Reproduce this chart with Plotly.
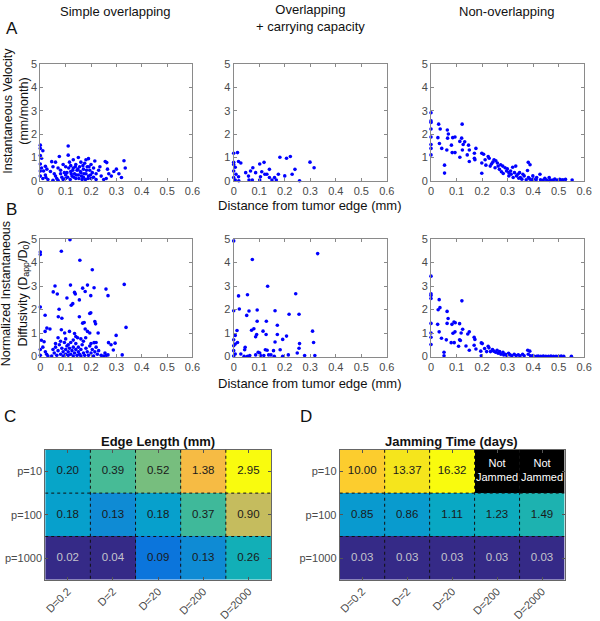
import numpy as np
import plotly.graph_objects as go

# ---------------- data ----------------
col_titles = ["Simple overlapping", "Overlapping<br>+ carrying capacity", "Non-overlapping"]

# Panel A: instantaneous velocity (mm/month) vs distance from tumor edge (mm)
vel_simple_x = [0.0,0.0,0.01,0.0,0.005,0.0,0.005,0.0,0.013,0.02,0.026,0.02,0.022,0.03,0.0,0.01,
    0.045,0.06,0.05,0.055,0.06,0.065,0.07,0.075,0.08,0.08,0.085,0.09,0.09,0.095,0.1,0.1,0.1,0.05,0.07,0.04,
    0.11,0.11,0.115,0.12,0.12,0.125,0.13,0.13,0.135,0.14,0.14,0.145,0.15,0.15,0.155,0.16,0.16,0.165,0.17,0.17,
    0.175,0.18,0.18,0.185,0.19,0.19,0.195,0.2,0.2,0.205,0.21,0.21,0.215,0.22,0.22,0.105,0.108,0.112,0.118,0.122,
    0.128,0.132,0.138,0.142,0.148,0.152,0.158,0.162,0.168,0.172,0.178,0.182,0.188,0.192,0.198,0.23,0.24,0.235,
    0.256,0.262,0.265,0.27,0.28,0.29,0.3,0.25,0.26,0.33,0.335,0.32,0.31]
vel_simple_y = [1.53,1.39,1.29,1.08,0.97,0.72,0.55,0.42,0.42,0.62,0.5,0.25,0.14,0.05,0.2,0.1,
    0.82,0.8,0.6,0.3,0.2,0.1,0.55,1.04,0.45,0.3,0.15,0.05,0.7,0.35,0.25,0.6,0.1,0.02,0.02,0.4,
    1.49,1.1,0.8,0.65,0.4,0.2,0.9,0.55,0.3,0.1,0.7,0.45,1.0,0.25,0.6,0.8,0.35,0.05,0.5,0.15,
    0.75,0.3,0.9,0.6,0.2,0.95,0.45,0.1,0.7,0.35,0.55,0.15,0.85,0.3,0.05,0.35,0.15,0.55,0.05,0.3,
    0.45,0.15,0.6,0.25,0.5,0.1,0.4,0.2,0.65,0.3,0.05,0.45,0.1,0.6,0.25,0.45,0.2,0.6,
    0.83,0.78,0.5,0.3,0.2,0.4,0.5,0.05,0.1,0.86,0.55,0.14,0.3]

vel_cc_x = [0,0.015,0,0,0.006,0,0.009,0,0.006,0.019,0.028,0.019,0.02,0.047,0.058,0.06,0.066,0.075,0.086,0.073,
    0.102,0.105,0.102,0.11,0.119,0.122,0.13,0.14,0.14,0.15,0.16,0.167,0.175,0.181,0.2,0.207,0.222,0.229,0.24,
    0.258,0.299,0.315]
vel_cc_y = [1.18,1.21,0.79,0.7,0.58,0.42,0.28,0.14,0.03,0.83,0.76,0.17,0.0,0.35,0.2,0.03,0.42,0.56,0.35,0.03,
    0.72,0.17,0.03,0.39,0.79,0.28,0.28,0.49,0.14,0.03,0.14,0.03,0.28,1.01,0.21,0.97,1.04,0.28,0.49,
    0.0,0.8,0.56]

vel_non_x = [0,0,0,0,0,0,0,0,0.03,0.036,0.027,0.033,0.042,0.053,0.053,0.064,0.068,0.062,0.065,0.08,0.085,0.094,
    0.083,0.094,0.113,0.12,0.122,0.113,0.123,0.126,0.132,0.142,0.147,0.15,0.15,0.17,0.176,0.17,0.172,0.199,0.199,
    0.199,0.206,0.212,0.215,0.224,0.228,0.232,0.237,0.242,0.247,0.254,0.251,0.26,0.263,0.268,0.273,0.276,0.281,
    0.283,0.29,0.296,0.299,0.305,0.305,0.312,0.314,0.32,0.322,0.327,0.332,0.335,0.34,0.344,0.347,0.35,0.356,0.36,
    0.365,0.373,0.378,0.381,0.388,0.382,0.388,0.395,0.399,0.401,0.412,0.414,0.427,0.429,0.44,0.446,0.453,0.463,
    0.468,0.478,0.485,0.494,0.504,0.51,0.517,0.527,0.553,0.465]
vel_non_y = [2.92,2.57,2.5,2.22,1.88,1.56,1.39,1.11,2.43,2.22,1.85,1.6,1.39,0.67,0.33,2.18,2.01,1.32,1.83,1.53,1.85,1.88,
    1.21,1.21,1.69,1.83,2.43,1.01,1.32,1.56,1.67,1.11,1.53,1.32,0.83,1.18,1.39,0.97,0.9,1.18,0.76,
    0.32,1.14,0.9,0.67,1.04,0.97,0.63,0.72,0.8,0.9,0.86,0.56,0.76,0.63,0.49,0.69,0.39,0.63,
    0.31,0.56,0.42,0.51,0.21,0.35,0.42,0.28,0.58,0.14,0.35,0.63,0.21,0.28,0.11,0.35,0.14,0.07,0.28,
    0.21,0.04,0.44,0.79,0.69,0.14,0.07,0.03,0.21,0.07,0.04,0.14,0.28,0.04,0.03,0.11,0.03,0.14,
    0.03,0.03,0.07,0.03,0.06,0.03,0.04,0.06,0.03,0.01]

# Panel B: normalized instantaneous diffusivity (Dapp/D0)
dif_simple_x = [0,0,0.117,0.083,0.156,0.205,0.058,0.051,0.067,0.119,0.105,0.135,0.138,0.074,0.071,0.085,0.122,0.128,
    0.154,0.167,0.177,0.186,0.199,0.212,0.259,0.267,0.331,0,0.019,0.026,0.038,0.019,0.004,0.015,0.083,0.096,0.115,
    0.135,0.147,0.167,0.173,0.154,0.195,0.199,0.215,0.218,0.186,0.195,0.228,0.299,0.338,0.177,0.179,0.212,0.269,
    0.279,0.295,0.288,0.323,0.267,
    0.02,0.025,0.03,0.045,0.05,0.055,0.06,0.065,0.07,0.075,0.08,0.085,0.09,0.09,0.095,0.1,0.1,0.105,0.11,0.11,
    0.115,0.12,0.12,0.125,0.13,0.13,0.135,0.14,0.14,0.145,0.15,0.15,0.155,0.16,0.16,0.165,0.17,0.175,0.18,0.185,
    0.19,0.195,0.2,0.205,0.21,0.215,0.22,0.225,0.23,0.24,0.25,0.255,0.26,0.0,0.0,0.01,0.08,0.1,0.13,0.17,0.2,
    0.22,0.11,0.14,0.16,0.07,0.06]
dif_simple_y = [4.45,4.34,4.97,4.48,4.1,3.69,3.0,2.75,2.66,3.04,2.49,2.73,2.66,2.01,1.69,1.63,2.18,2.25,
    2.41,2.91,2.77,3.04,2.59,2.93,2.87,2.59,3.07,2.11,1.76,1.21,1.17,1.07,0.69,0.63,1.14,1.0,1.07,
    0.98,0.8,1.42,1.45,1.69,1.83,1.86,1.49,1.39,1.07,1.0,1.0,0.9,1.24,1.17,0.8,0.59,0.59,
    0.5,0.57,0.28,0.07,0.07,
    0.2,0.1,0.02,0.02,0.3,0.15,0.4,0.05,0.25,0.5,0.1,0.35,0.02,0.2,0.6,0.3,0.1,0.45,0.05,0.2,
    0.35,0.6,0.1,0.25,0.02,0.4,0.15,0.3,0.55,0.05,0.2,0.4,0.1,0.3,0.02,0.5,0.15,0.05,0.35,0.2,
    0.05,0.45,0.15,0.3,0.02,0.2,0.4,0.1,0.25,0.05,0.02,0.15,0.05,0.3,0.05,0.4,0.65,0.75,0.7,0.65,0.55,
    0.6,0.5,0.85,0.75,0.8,0.55]

dif_cc_x = [0,0.073,0.329,0.133,0.243,0.054,0.019,0,0.022,0.092,0.162,0.217,0.256,0.06,0.051,0.092,0.128,0.171,
    0.013,0.006,0.07,0.079,0.09,0.086,0.115,0.127,0.171,0.162,0.192,0.207,0.309,0.313,0.258,0.256,0.249,
    0,0,0.006,0,0.006,0.015,0.045,0.043,0.028,0.041,0.054,0.063,0.086,0.096,0.102,0.105,0.118,0.124,0.131,
    0.137,0.146,0.156,0.159,0.182,0.192,0.214,0.278,0.318,0]
dif_cc_y = [4.92,4.13,4.38,2.99,2.67,2.63,2.58,1.95,2.02,1.98,1.95,1.8,1.8,1.94,1.75,1.5,1.5,1.33,
    1.11,0.9,1.12,1.18,0.94,0.84,1.08,0.94,0.94,0.62,0.73,0.87,1.08,0.6,0.55,0.35,0.15,
    0.71,0.46,0.53,0.25,0.11,0.6,0.39,0.29,0.11,0.01,0.01,0.04,0.07,0.18,0.15,0.04,0.04,0.29,0.27,
    0.07,0.07,0.25,0.01,0.29,0.01,0.07,0.04,0.04,0.02]

dif_non_x = [0,0,0,0,0,0,0,0,0.032,0.035,0.028,0.026,0.032,0.041,0.051,0.051,0.063,0.067,0.063,0.06,0.079,0.082,
    0.09,0.095,0.086,0.094,0.091,0.112,0.118,0.121,0.124,0.112,0.115,0.108,0.137,0.144,0.15,0.15,0.169,0.172,
    0.169,0.176,0.197,0.201,0.195,0.197,0.21,0.224,0.227,0.218,0.233,0.241,0.246,0.253,0.259,0.263,0.269,0.274,
    0.282,0.285,0.292,0.297,0.304,0.31,0.317,0.326,0.333,0.342,0.349,0.359,0.365,0.379,0.387,0.381,0.39,0.4,
    0.413,0.42,0.43,0.44,0.45,0.46,0.47,0.48,0.49,0.5,0.51,0.52,0.55]
dif_non_y = [3.42,2.67,2.6,2.47,1.41,1.0,0.82,0.51,2.42,2.08,1.99,1.37,1.05,0.78,0.18,0.03,1.92,1.62,1.41,0.71,0.59,1.37,
    1.47,1.44,0.99,1.05,0.59,1.4,1.0,2.37,1.16,0.71,0.68,0.44,0.45,0.96,1.05,0.27,0.82,0.73,
    0.48,0.32,0.58,0.55,0.23,0.03,0.34,0.44,0.37,0.21,0.21,0.3,0.23,0.18,0.27,0.14,0.21,0.1,
    0.18,0.07,0.1,0.04,0.14,0.07,0.03,0.1,0.04,0.07,0.03,0.1,0.03,0.27,0.23,0.1,0.03,0.04,
    0.01,0.02,0.01,0.02,0.01,0.01,0.02,0.01,0.01,0.01,0.02,0.01,0.01]

# Panels C and D
d_labels = ["D=0.2", "D=2", "D=20", "D=200", "D=2000"]
p_labels = ["p=10", "p=100", "p=1000"]
edge_p10 = [0.20, 0.39, 0.52, 1.38, 2.95]
edge_p100 = [0.18, 0.13, 0.18, 0.37, 0.90]
edge_p1000 = [0.02, 0.04, 0.09, 0.13, 0.26]
jam_p10 = [10.00, 13.37, 16.32, None, None]   # None = Not Jammed
jam_p100 = [0.85, 0.86, 1.11, 1.23, 1.49]
jam_p1000 = [0.03, 0.03, 0.03, 0.03, 0.03]

# ---------------- styling ----------------
W, H = 600, 621
FONT = "Liberation Sans, Arial, Helvetica, sans-serif"
AX = "#8a8a8a"
TICKC = "#4a4a4a"

# MATLAB parula (64-entry table, selected entries with their index)
parula = [
    (1, 0.2081,0.1663,0.5292),(4, 0.2081,0.2386,0.6771),(8, 0.0591,0.3598,0.8683),(10, 0.0060,0.4086,0.8828),
    (12, 0.0329,0.4430,0.8720),(16, 0.0779,0.5040,0.8384),(20, 0.0488,0.5772,0.8228),(24, 0.0231,0.6418,0.7913),
    (28, 0.0590,0.6838,0.7254),(32, 0.1801,0.7177,0.6424),(36, 0.3482,0.7424,0.5473),(40, 0.5300,0.7491,0.4661),
    (44, 0.6834,0.7435,0.4044),(48, 0.8185,0.7327,0.3498),(52, 0.9450,0.7261,0.2886),(54, 0.9938,0.7455,0.2403),
    (56, 0.9955,0.7861,0.1967),(58, 0.9789,0.8271,0.1633),(60, 0.9626,0.8705,0.1309),(62, 0.9598,0.9218,0.0948),
    (64, 0.9763,0.9831,0.0538)]
parula_cs = [[(i - 1) / 63, "rgb(%d,%d,%d)" % (round(r*255), round(g*255), round(b*255))] for i, r, g, b in parula]

def px_x(a, b):
    return [a / W, b / W]

def px_y(top, bottom):
    return [1 - bottom / H, 1 - top / H]

cols = [(38, 193), (235, 391), (436, 592)]
rows = [(60, 180), (240, 361)]

fig = go.Figure()
layout = {}

scatter_sets = [
    [(vel_simple_x, vel_simple_y), (vel_cc_x, vel_cc_y), (vel_non_x, vel_non_y)],
    [(dif_simple_x, dif_simple_y), (dif_cc_x, dif_cc_y), (dif_non_x, dif_non_y)],
]

k = 0
for r, (top, bot) in enumerate(rows):
    for c, (lft, rgt) in enumerate(cols):
        k += 1
        xs, ys = scatter_sets[r][c]
        sfx = "" if k == 1 else str(k)
        fig.add_trace(go.Scatter(x=xs, y=ys, mode="markers", xaxis="x" + sfx, yaxis="y" + sfx,
                                 marker=dict(color="#0000ff", size=3.6, line=dict(width=0)),
                                 cliponaxis=False, showlegend=False, hoverinfo="skip"))
        common = dict(ticks="inside", ticklen=3, tickcolor=AX, showline=True, linecolor=AX, linewidth=1,
                      mirror="ticks", showgrid=False, zeroline=False,
                      tickfont=dict(family=FONT, size=11, color=TICKC))
        layout["xaxis" + sfx] = dict(domain=px_x(lft, rgt), range=[0, 0.6], tick0=0, dtick=0.1,
                                     anchor="y" + sfx, **common)
        layout["yaxis" + sfx] = dict(domain=px_y(top, bot), range=[0, 5], tick0=0, dtick=1,
                                     anchor="x" + sfx, **common)

# heatmaps
def heat_axes(idx, lft, rgt):
    sfx = str(idx)
    common = dict(ticks="inside", ticklen=3, tickcolor="#555555", showline=True, linecolor="#666666",
                  linewidth=1, mirror="ticks", showgrid=False, zeroline=False,
                  tickfont=dict(family=FONT, size=11, color=TICKC))
    layout["xaxis" + sfx] = dict(domain=px_x(lft, rgt), range=[-0.5, len(d_labels) - 0.5],
                                 tickvals=list(range(len(d_labels))), ticktext=d_labels, tickangle=-45,
                                 anchor="y" + sfx, **common)
    layout["yaxis" + sfx] = dict(domain=px_y(457, 591), range=[len(p_labels) - 0.5, -0.5],
                                 tickvals=list(range(len(p_labels))), ticktext=p_labels,
                                 anchor="x" + sfx, **common)
    return "x" + sfx, "y" + sfx

edge = [edge_p10, edge_p100, edge_p1000]
jam = [jam_p10, jam_p100, jam_p1000]
CELL_FONT = 11.5

xa, ya = heat_axes(7, 43, 273)
ez = [[np.log10(v) for v in row] for row in edge]
fig.add_trace(go.Heatmap(z=ez, x=list(range(5)), y=list(range(3)), xaxis=xa, yaxis=ya, colorscale=parula_cs,
                         zmin=np.log10(0.04), zmax=np.log10(2.95), showscale=False, hoverinfo="skip"))
tx, ty, tt, tc = [], [], [], []
for i, row in enumerate(edge):
    for j, v in enumerate(row):
        tx.append(j); ty.append(i); tt.append("%.2f" % v)
        tc.append("#c4c4cc" if v < 0.05 else "#1a1a1a")
fig.add_trace(go.Scatter(x=tx, y=ty, text=tt, mode="text", xaxis=xa, yaxis=ya,
                         textfont=dict(family=FONT, size=CELL_FONT, color=tc), showlegend=False, hoverinfo="skip"))

xb, yb = heat_axes(8, 343, 572)
jz = [[(np.log10(v) if v is not None else None) for v in row] for row in jam]
fig.add_trace(go.Heatmap(z=jz, x=list(range(5)), y=list(range(3)), xaxis=xb, yaxis=yb, colorscale=parula_cs,
                         zmin=np.log10(0.2), zmax=np.log10(16.32), showscale=False, hoverinfo="skip"))
mask = [[(1 if v is None else None) for v in row] for row in jam]
fig.add_trace(go.Heatmap(z=mask, x=list(range(5)), y=list(range(3)), xaxis=xb, yaxis=yb,
                         colorscale=[[0, "black"], [1, "black"]], showscale=False, hoverinfo="skip"))
tx, ty, tt, tc, ts = [], [], [], [], []
for i, row in enumerate(jam):
    for j, v in enumerate(row):
        tx.append(j); ty.append(i)
        if v is None:
            tt.append("Not<br>Jammed"); tc.append("#ffffff"); ts.append(11)
        else:
            tt.append("%.2f" % v); tc.append("#c4c4cc" if v < 0.05 else "#1a1a1a"); ts.append(CELL_FONT)
fig.add_trace(go.Scatter(x=tx, y=ty, text=tt, mode="text", xaxis=xb, yaxis=yb,
                         textfont=dict(family=FONT, size=ts, color=tc), showlegend=False, hoverinfo="skip"))

# dotted cell borders
shapes = []
for xr, yr in [("x7", "y7"), ("x8", "y8")]:
    for j in range(1, len(d_labels)):
        shapes.append(dict(type="line", xref=xr, yref=yr, x0=j - 0.5, x1=j - 0.5, y0=-0.5, y1=len(p_labels) - 0.5,
                           line=dict(color="#111111", width=1, dash="dot")))
    for i in range(1, len(p_labels)):
        shapes.append(dict(type="line", xref=xr, yref=yr, y0=i - 0.5, y1=i - 0.5, x0=-0.5, x1=len(d_labels) - 0.5,
                           line=dict(color="#111111", width=1, dash="dot")))

def ann(text, x, y, size=13, angle=0, bold=False, color="#111111", xanchor="center", yanchor="middle"):
    if bold:
        text = "<b>" + text + "</b>"
    return dict(text=text, x=x / W, y=1 - y / H, xref="paper", yref="paper", showarrow=False,
                font=dict(family=FONT, size=size, color=color), textangle=angle,
                xanchor=xanchor, yanchor=yanchor)

annotations = [
    ann(col_titles[0], 115, 6),
    ann(col_titles[1], 313, 12),
    ann(col_titles[2], 513, 6),
    ann("A", 9, 23, size=17),
    ann("B", 9, 210, size=17),
    ann("C", 7, 423, size=17),
    ann("D", 309, 423, size=17),
    ann("Distance from tumor edge (mm)", 313, 205),
    ann("Distance from tumor edge (mm)", 313, 389),
    ann("Instantaneous Velocity<br>(mm/month)", 13, 108, size=12.5, angle=-90),
    ann("Normalized Instantaneous<br>Diffusivity (D<sub>app</sub>/D<sub>0</sub>)", 13, 296, size=12.5, angle=-90),
    ann("Edge Length (mm)", 158, 449, bold=True),
    ann("Jamming Time (days)", 457, 449, bold=True),
]

fig.update_layout(width=W, height=H, margin=dict(l=0, r=0, t=0, b=0), paper_bgcolor="white",
                  plot_bgcolor="white", showlegend=False, shapes=shapes, annotations=annotations,
                  font=dict(family=FONT), **layout)

fig.write_html("out.html", config={"displayModeBar": False},
               post_script="document.body.style.margin='0';document.body.style.padding='0';"
                           "document.body.style.overflow='hidden';")
